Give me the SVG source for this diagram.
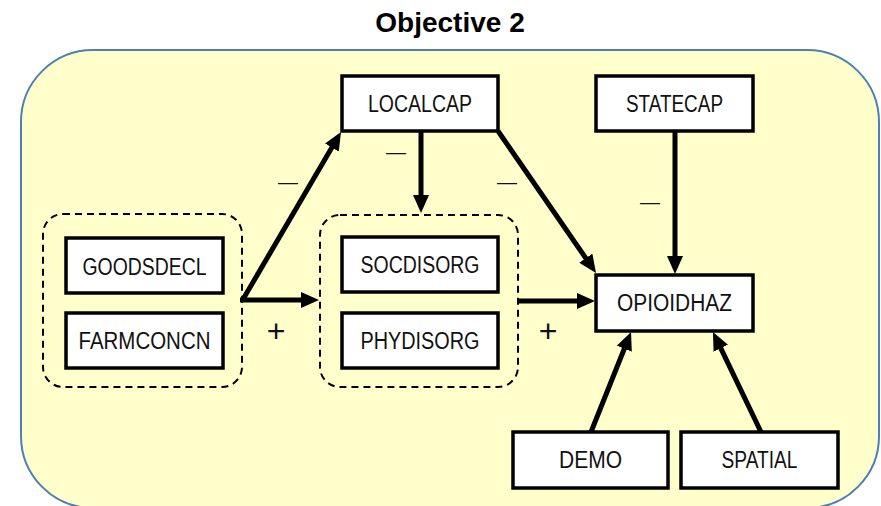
<svg xmlns="http://www.w3.org/2000/svg" width="881" height="506" viewBox="0 0 881 506">
<style>
.bg{fill:#ffffcc;stroke:#4f7fb5;stroke-width:2}
.node rect{fill:#ffffff;stroke:#000;stroke-width:3.5}
.node text{font-family:"Liberation Sans",Arial,sans-serif;font-size:23.5px;fill:#111;text-anchor:middle}
.grp{fill:none;stroke:#000;stroke-width:2;stroke-dasharray:7 5}
.conn line{stroke:#000;stroke-width:5;marker-end:url(#ah)}
.lbl{font-family:"Liberation Sans",Arial,sans-serif;fill:#111;text-anchor:middle}
.title{font-family:"Liberation Sans",Arial,sans-serif;font-size:28px;font-weight:bold;fill:#000;text-anchor:middle}
</style>
<defs>
<marker id="ah" viewBox="0 0 18 16" markerWidth="18" markerHeight="16" refX="2" refY="8" orient="auto" markerUnits="userSpaceOnUse">
<path d="M0,0 L18,8 L0,16 z" fill="#000"/>
</marker>
</defs>
<rect width="881" height="506" fill="#ffffff"/>
<text class="title" x="450" y="32">Objective 2</text>
<rect class="bg" x="21" y="50" width="858" height="458" rx="72" ry="72"/>

<g id="group-left"><rect class="grp" x="43" y="214" width="199" height="173" rx="20" ry="20"/></g>
<g id="group-mid"><rect class="grp" x="320" y="215" width="198" height="172" rx="20" ry="20"/></g>

<g id="connectors" class="conn">
<line x1="242" y1="301" x2="332.9" y2="145.8"/>
<line x1="240" y1="300" x2="303" y2="300"/>
<line x1="421" y1="131" x2="421" y2="197"/>
<line x1="498" y1="131" x2="586.9" y2="259.8"/>
<line x1="675" y1="131" x2="675" y2="258"/>
<line x1="518" y1="301" x2="579" y2="301"/>
<line x1="591" y1="432" x2="625.1" y2="346.8"/>
<line x1="761" y1="432" x2="719.9" y2="346.4"/>
</g>

<g id="labels">
<text class="lbl" x="288" y="188.5" font-size="20">—</text>
<text class="lbl" x="396" y="158.5" font-size="20">—</text>
<text class="lbl" x="507" y="188.5" font-size="20">—</text>
<text class="lbl" x="650" y="208.5" font-size="20">—</text>
<text class="lbl" x="276" y="341.5" font-size="32">+</text>
<text class="lbl" x="548" y="341.5" font-size="32">+</text>
</g>

<g id="LOCALCAP" class="node"><rect x="342" y="76" width="156" height="55"/><text x="420" y="112" textLength="104" lengthAdjust="spacingAndGlyphs">LOCALCAP</text></g>
<g id="STATECAP" class="node"><rect x="596" y="76" width="157" height="55"/><text x="674.5" y="112" textLength="97" lengthAdjust="spacingAndGlyphs">STATECAP</text></g>
<g id="OPIOIDHAZ" class="node"><rect x="596" y="275" width="157" height="56"/><text x="674.5" y="311" textLength="115" lengthAdjust="spacingAndGlyphs">OPIOIDHAZ</text></g>
<g id="GOODSDECL" class="node"><rect x="66" y="238" width="157" height="55"/><text x="144.5" y="275" textLength="124" lengthAdjust="spacingAndGlyphs">GOODSDECL</text></g>
<g id="FARMCONCN" class="node"><rect x="66" y="313" width="157" height="55"/><text x="144.5" y="349" textLength="132" lengthAdjust="spacingAndGlyphs">FARMCONCN</text></g>
<g id="SOCDISORG" class="node"><rect x="342" y="237" width="156" height="55"/><text x="420" y="273" textLength="119" lengthAdjust="spacingAndGlyphs">SOCDISORG</text></g>
<g id="PHYDISORG" class="node"><rect x="342" y="313" width="156" height="55"/><text x="420" y="349" textLength="119" lengthAdjust="spacingAndGlyphs">PHYDISORG</text></g>
<g id="DEMO" class="node"><rect x="513" y="432" width="155" height="56"/><text x="590.5" y="468" textLength="63" lengthAdjust="spacingAndGlyphs">DEMO</text></g>
<g id="SPATIAL" class="node"><rect x="681" y="432" width="157" height="56"/><text x="759.5" y="468" textLength="76" lengthAdjust="spacingAndGlyphs">SPATIAL</text></g>
</svg>
